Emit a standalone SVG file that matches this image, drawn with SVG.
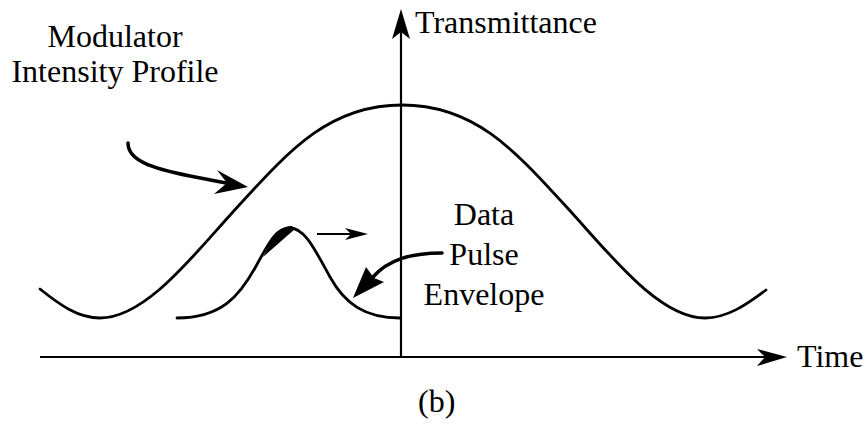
<svg xmlns="http://www.w3.org/2000/svg" width="868" height="426" viewBox="0 0 868 426">
<style>
  .lbl { font-family: 'Liberation Serif', 'DejaVu Serif', serif; font-size: 32px; fill: #000; }
  .curve { fill: none; stroke: #000; stroke-width: 2.8; stroke-linecap: round; }
  .axis { fill: none; stroke: #000; stroke-width: 2.2; }
  .lead { fill: none; stroke: #000; stroke-width: 3.5; stroke-linecap: round; }
  .head { fill: #000; stroke: none; }
</style>
<rect width="868" height="426" fill="#fff"/>
<g id="axes">
  <line class="axis" x1="401" y1="30" x2="401" y2="357"/>
  <polygon class="head" points="401,9 410,39 401,32 392,39"/>
  <line class="axis" x1="40" y1="357" x2="766" y2="357"/>
  <polygon class="head" points="787,357 757,349 765,357 757,366"/>
</g>
<g id="modulator-profile">
  <path class="curve" d="M40,289 C60,305 78,318 100,318 C145,318 192,257 232,213 C287,153 327,105 402,105 C477,105 517,153 572,213 C612,257 660,318 705,318 C727,318 746,305 766,290"/>
</g>
<g id="data-pulse">
  <path class="curve" d="M177,318 C222,318 240,295 255,268 C268,245 275,228 290,228 C305,228 315,250 330,277 C345,304 365,318 400,318"/>
  <path class="head" d="M263,257 C272,240 279,226 292,226 L295,229 Z"/>
</g>
<g id="connectors">
  <path class="lead" d="M128,143 C128,160 150,168 190,176 L226,183"/>
  <polygon class="head" points="248,187 217,170 227,183 214,194"/>
  <line class="axis" x1="317" y1="234" x2="352" y2="234"/>
  <polygon class="head" points="368,234 345,228 351,234 345,240"/>
  <path class="lead" d="M442,253 C410,253 388,260 373,277"/>
  <polygon class="head" points="353,298 366,267 374,278 384,282"/>
</g>
<g id="labels" font-family="Liberation Serif, DejaVu Serif, serif" font-size="32">
  <text class="lbl" x="415" y="33">Transmittance</text>
  <text class="lbl" x="115" y="47" text-anchor="middle">Modulator</text>
  <text class="lbl" x="115" y="82" text-anchor="middle">Intensity Profile</text>
  <text class="lbl" x="484" y="225" text-anchor="middle">Data</text>
  <text class="lbl" x="484" y="265" text-anchor="middle">Pulse</text>
  <text class="lbl" x="484" y="305" text-anchor="middle">Envelope</text>
  <text class="lbl" x="797" y="367">Time</text>
  <text class="lbl" x="418" y="412">(b)</text>
</g>
</svg>
